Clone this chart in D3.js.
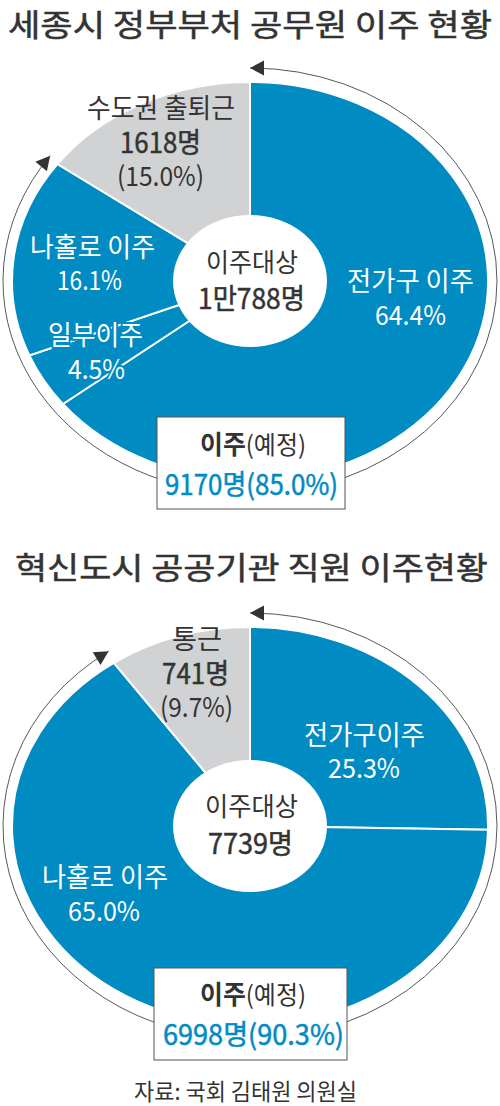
<!DOCTYPE html>
<html>
<head>
<meta charset="utf-8">
<script src="https://cdn.jsdelivr.net/npm/d3@7"></script>
<style>
    html, body { margin: 0; padding: 0; background: #fff; }
    text { font-family: "Noto Sans CJK KR", sans-serif; }
</style>
</head>
<body>
<svg id="chart" width="500" height="1106"></svg>
<script>
// Top chart values, share in percent
var sejongLabels = ["전가구 이주", "일부이주", "나홀로 이주", "수도권 출퇴근"];
var sejongValues = [64.4, 4.5, 16.1, 15.0];
var sejongMoved = 85.0;

// Bottom chart values, share in percent
var innovationLabels = ["전가구이주", "나홀로 이주", "통근"];
var innovationValues = [25.3, 65.0, 9.7];
var innovationMoved = 90.3;

var BLUE = "#008bc3";
var GRAY = "#d1d2d4";
var DARK = "#333333";

var svg = d3.select("#chart");

function drawPie(values, moved, cy) {
    /*
    Draws one elliptical doughnut with its outer arrows, centred on y = cy
    */
    var cx = 250;
    var rx = 238;
    var ry = 199;
    var arrowRx = 247;
    var arrowRy = 213;
    var lastIndex = values.length - 1;

    var slices = d3.pie().sort(null)(values);

    // Share of the circle to radians, clockwise from the top
    var angle = d3.scaleLinear().domain([0, 100]).range([0, 2 * Math.PI]);

    var arc = d3.arc().innerRadius(0).outerRadius(1);

    svg.append("g")
        .attr("transform", "translate(" + cx + "," + cy + ") scale(" + rx + "," + ry + ")")
        .selectAll("path")
        .data(slices)
        .enter()
        .append("path")
        .attr("d", arc)
        .attr("fill", function (d, i) {
            return i == lastIndex ? GRAY : BLUE;
        })
        .attr("stroke", "#fff")
        .attr("stroke-width", 2)
        .attr("vector-effect", "non-scaling-stroke");

    svg.append("ellipse")
        .attr("cx", cx)
        .attr("cy", cy)
        .attr("rx", 77)
        .attr("ry", 66)
        .attr("fill", "#fff");

    // Thin arrows start at the bottom and run to each end of the "moved" share
    [[50, 0], [50, moved]].forEach(function (ends) {
        var path = d3.path();
        var start = angle(ends[0]) - Math.PI / 2;
        var end = angle(ends[1]) - Math.PI / 2;
        path.arc(0, 0, 1, start, end, ends[1] < ends[0]);

        svg.append("path")
            .attr("transform", "translate(" + cx + "," + cy + ") scale(" + arrowRx + "," + arrowRy + ")")
            .attr("d", path.toString())
            .attr("fill", "none")
            .attr("stroke", "#444")
            .attr("stroke-width", 0.9)
            .attr("vector-effect", "non-scaling-stroke");

        // Arrow head follows the tangent of the ellipse at the end point
        var sign = ends[1] < ends[0] ? -1 : 1;
        var tipX = cx + arrowRx * Math.cos(end);
        var tipY = cy + arrowRy * Math.sin(end);
        var dirX = -arrowRx * Math.sin(end) * sign;
        var dirY = arrowRy * Math.cos(end) * sign;
        var heading = Math.atan2(dirY, dirX) * 180 / Math.PI;

        svg.append("path")
            .attr("transform", "translate(" + tipX + "," + tipY + ") rotate(" + heading + ")")
            .attr("d", "M0,0L-14,-7.5L-14,7.5Z")
            .attr("fill", DARK);
    });
}

function label(text, x0, x1, y, size, color, weight) {
    // Text stretched between x0 and x1, as the reference's widths are not the font's
    return svg.append("text")
        .attr("x", (x0 + x1) / 2)
        .attr("y", y)
        .attr("text-anchor", "middle")
        .attr("font-size", size)
        .attr("font-weight", weight || 400)
        .attr("textLength", x1 - x0)
        .attr("lengthAdjust", "spacingAndGlyphs")
        .attr("fill", color)
        .text(text);
}

function heavy(selection, color) {
    // The reference's numbers sit between regular and bold
    selection.attr("stroke", color).attr("stroke-width", 0.5);
}

function halo(selection) {
    // These labels cut the white slice lines behind them
    selection.attr("stroke", BLUE).attr("stroke-width", 4).attr("paint-order", "stroke");
}

function movedBox(x, y, width, height, share, people, textY, peopleX0, peopleX1) {
    svg.append("rect")
        .attr("x", x)
        .attr("y", y)
        .attr("width", width)
        .attr("height", height)
        .attr("fill", "#fff")
        .attr("stroke", "#555")
        .attr("stroke-width", 1);

    var head = label("", 200, 306, textY, 26, DARK);
    head.append("tspan").attr("font-weight", 700).text("이주");
    head.append("tspan").attr("font-size", 25).text("(예정)");

    heavy(label(people + "명(" + share.toFixed(1) + "%)", peopleX0, peopleX1, textY + 41, 28, BLUE), BLUE);
}

drawPie(sejongValues, sejongMoved, 281);
drawPie(innovationValues, innovationMoved, 826);

// Titles
heavy(label("세종시 정부부처 공무원 이주 현황", 8, 492, 36, 31, DARK), DARK);
heavy(label("혁신도시 공공기관 직원 이주현황", 15, 488, 579, 31, DARK), DARK);

// Top chart labels
label(sejongLabels[3], 87, 235, 118, 27, DARK);
heavy(label("1618명", 120, 201, 153, 28, DARK), DARK);
label("(" + sejongValues[3].toFixed(1) + "%)", 117, 204, 186, 27, DARK);
label(sejongLabels[2], 30, 155, 257, 27, "#fff");
label(sejongValues[2] + "%", 57, 122, 290, 27, "#fff");
halo(label(sejongLabels[1], 48, 143, 345, 27, "#fff"));
halo(label(sejongValues[1] + "%", 68, 125, 379, 27, "#fff"));
label(sejongLabels[0], 347, 474, 291, 27, "#fff");
label(sejongValues[0] + "%", 375, 446, 325, 27, "#fff");
label("이주대상", 206, 298, 272, 26, DARK);
heavy(label("1만788명", 198, 305, 309, 28, DARK), DARK);
movedBox(157, 417, 188, 92, sejongMoved, 9170, 454, 165, 338);

// Bottom chart labels
label(innovationLabels[2], 172, 222, 649, 27, DARK);
heavy(label("741명", 162, 229, 684, 28, DARK), DARK);
label("(" + innovationValues[2] + "%)", 160, 233, 717, 27, DARK);
label(innovationLabels[0], 304, 425, 745, 27, "#fff");
label(innovationValues[0] + "%", 328, 400, 778, 27, "#fff");
label(innovationLabels[1], 42, 168, 887, 27, "#fff");
label(innovationValues[1].toFixed(1) + "%", 68, 140, 921, 27, "#fff");
label("이주대상", 205, 298, 816, 26, DARK);
heavy(label("7739명", 208, 293, 854, 28, DARK), DARK);
movedBox(154, 968, 193, 92, innovationMoved, 6998, 1004, 163, 344);

// Source
label("자료: 국회 김태원 의원실", 134, 357, 1100, 23, DARK);
</script>
</body>
</html>
